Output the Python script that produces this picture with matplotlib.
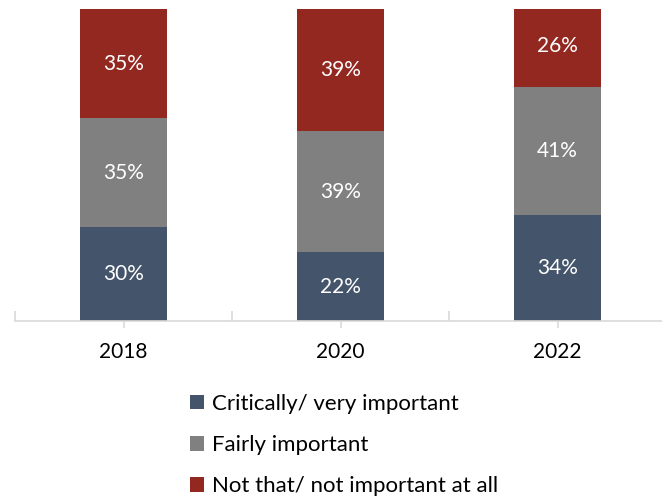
import matplotlib.pyplot as plt
import numpy as np
from matplotlib.patches import Patch

years = ["2018", "2020", "2022"]
critical = [30, 22, 34]
fairly = [35, 39, 41]
not_that = [35, 39, 26]
series_names = ["Critically/ very important", "Fairly important",
                "Not that/ not important at all"]
colors = ["#44546A", "#808080", "#922820"]

plt.rcParams['font.family'] = ['Lato', 'DejaVu Sans']

fig = plt.figure(figsize=(6.62, 4.98), dpi=100)
ax = fig.add_axes([15 / 662, 1 - 321 / 498, 651 / 662, 312 / 498])

x = np.arange(len(years))
bottom = np.zeros(len(years))
for vals, col in zip([critical, fairly, not_that], colors):
    vals = np.array(vals, dtype=float)
    ax.bar(x, vals, 0.4, bottom=bottom, color=col)
    for xi, b, v in zip(x, bottom, vals):
        ax.text(xi, b + v / 2, f"{int(v)}%", ha='center', va='center',
                color='white', fontsize=15)
    bottom += vals

ax.set_xlim(-0.5, 2.5)
ax.set_ylim(0, 100)
for s in ['top', 'right', 'left']:
    ax.spines[s].set_visible(False)
ax.spines['bottom'].set_color('#D9D9D9')
ax.spines['bottom'].set_linewidth(1.2)
ax.set_yticks([])
ax.set_xticks([-0.5, 0.5, 1.5, 2.5])
ax.set_xticklabels([])
ax.tick_params(axis='x', which='major', direction='in', length=7,
               color='#D9D9D9', width=1.2)
ax.set_xticks(x, minor=True)
ax.set_xticklabels(years, minor=True)
ax.tick_params(axis='x', which='minor', direction='out', length=5,
               color='#D9D9D9', width=1.2, labelsize=15, pad=10)

handles = [Patch(facecolor=c) for c in colors]
fig.legend(handles, series_names, loc='upper left',
           bbox_to_anchor=(181 / 662, 1 - 385 / 498), frameon=False,
           fontsize=16, handlelength=0.65, handleheight=0.65,
           handletextpad=0.35, labelspacing=0.95, borderaxespad=0)

fig.savefig("out.png", dpi=100)
